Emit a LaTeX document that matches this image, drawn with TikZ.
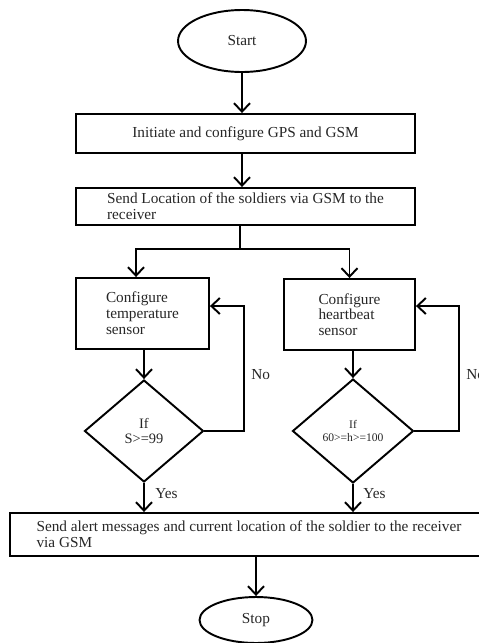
\documentclass[tikz,border=0pt]{standalone}
\usepackage{fontspec}
\setmainfont{Liberation Serif}
\usetikzlibrary{arrows.meta,shapes.geometric}
\tikzset{
  flowline/.style={line width=1.1pt},
  flowarrow/.style={flowline,-{Straight Barb[length=1.7mm,width=3.2mm]}},
  terminal/.style={draw,flowline,ellipse,inner sep=0pt,font=\fontsize{8.7}{9}\selectfont,text=black!85},
  process/.style={draw,flowline,rectangle,inner sep=0pt,align=left,font=\fontsize{8.7}{9}\selectfont,text=black!85},
  decision/.style={draw,flowline,diamond,inner sep=0pt,align=center,text=black!85},
  answer/.style={anchor=west,inner sep=0pt,font=\fontsize{8.7}{9}\selectfont,text=black!85}
}
\begin{document}
\begin{tikzpicture}[x=0.02cm,y=-0.02cm]
  \useasboundingbox (0,0) rectangle (478,643);

  % start and set-up
  \node[terminal, minimum width=2.56cm, minimum height=1.24cm] (start) at (242,41) {Start};
  \node[process, minimum width=6.78cm, minimum height=0.78cm] (init) at (245.5,133.5) {Initiate and configure GPS and GSM};
  \node[process, minimum width=6.78cm, minimum height=0.74cm] (sendloc) at (245.5,206.5) {Send Location of the soldiers via GSM to the\\receiver};

  % the two sensors
  \node[process, minimum width=2.66cm, minimum height=1.42cm] (tsense) at (142.5,313.5) {Configure\\temperature\\sensor};
  \node[process, minimum width=2.62cm, minimum height=1.42cm] (hsense) at (349.5,314.5) {Configure\\heartbeat\\sensor};
  \node[decision, minimum width=2.38cm, minimum height=2.04cm, font=\fontsize{8.2}{8.5}\selectfont] (tcheck) at (144,431) {If\\S>=99};
  \node[decision, minimum width=2.42cm, minimum height=2.08cm, font=\fontsize{6.6}{7.4}\selectfont] (hcheck) at (353,431) {If\\60>=h>=100};

  % alert and stop
  \node[process, minimum width=9.56cm, minimum height=0.86cm] (alert) at (249,534.5) {Send alert messages and current location of the soldier to the receiver\\via GSM};
  \node[terminal, minimum width=2.26cm, minimum height=0.92cm] (stop) at (256,620) {Stop};

  \node[answer] (tno) at (251,375) {No};
  \node[answer] (hno) at (466,375) {No};
  \node[answer] (tyes) at (155,494) {Yes};
  \node[answer] (hyes) at (363,494) {Yes};

  % connectors
  \draw[flowarrow] (start.south) -- (start.south |- init.north);
  \draw[flowarrow] (init.south -| start) -- (sendloc.north -| start);
  \coordinate (split) at (240,249);
  \draw[flowline] (sendloc.south -| split) -- (split);
  \draw[flowarrow] (split) -| ([xshift=-0.13cm]tsense.north);
  \draw[flowarrow] (split) -| (hsense.north);
  \draw[flowarrow] (tcheck.north |- tsense.south) -- (tcheck.north);
  \draw[flowarrow] (hcheck.north |- hsense.south) -- (hcheck.north);
  \draw[flowarrow] (tcheck.east) -- ++(40,0) |- ([yshift=0.15cm]tsense.east);
  \draw[flowarrow] (hcheck.east) -- ++(45,0) |- ([yshift=0.17cm]hsense.east);
  \draw[flowarrow] (tcheck.south) -- (tcheck.south |- alert.north);
  \draw[flowarrow] (hcheck.south) -- (hcheck.south |- alert.north);
  \draw[flowarrow] (stop.north |- alert.south) -- (stop.north);
\end{tikzpicture}
\end{document}
